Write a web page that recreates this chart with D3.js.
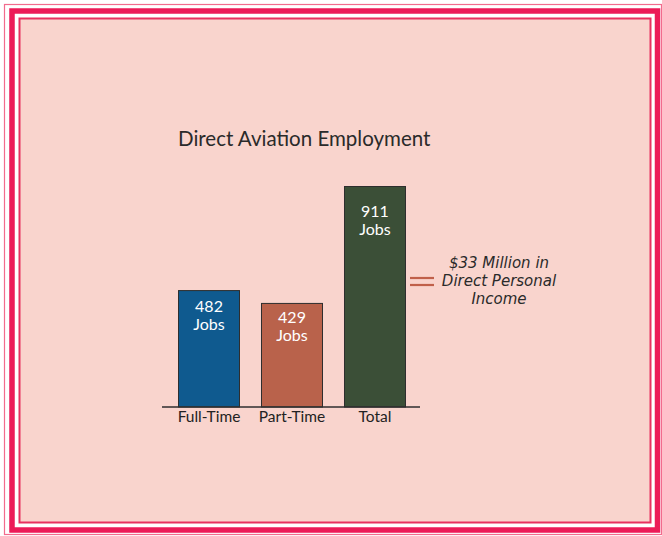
<!DOCTYPE html>
<html>
<head>
<meta charset="utf-8">
<script src="https://cdn.jsdelivr.net/npm/d3@7"></script>
<style>
  html, body { margin: 0; padding: 0; background: #ffffff; }
  svg { display: block; }
  text { font-family: Lato, "Noto Sans", sans-serif; }
</style>
</head>
<body>
<svg id="chart" width="662" height="536"></svg>
<script>
// Direct aviation employment by type
const categories = ["Full-Time", "Part-Time", "Total"];
const jobs = [482, 429, 911];
const barColors = ["#0f5a8f", "#b9624b", "#3b4f37"];
const chartTitle = "Direct Aviation Employment";
const incomeNote = ["$33 Million in", "Direct Personal", "Income"];

const svg = d3.select("#chart");

// Frame: thin outer rule, heavy band, thin inner rule around the panel
svg.append("rect").attr("x", 4.5).attr("y", 4.5).attr("width", 657).attr("height", 530)
  .attr("fill", "none").attr("stroke", "#f26b8d").attr("stroke-width", 1.2);
svg.append("rect").attr("x", 12).attr("y", 11).attr("width", 645.5).attr("height", 519)
  .attr("fill", "none").attr("stroke", "#ec1b58").attr("stroke-width", 5.5);
svg.append("rect").attr("x", 19.5).attr("y", 18.5).attr("width", 631).attr("height", 504)
  .attr("fill", "#f9d4cd").attr("stroke", "#e8305f").attr("stroke-width", 2);

// Title
svg.append("text")
  .attr("x", 178).attr("y", 146)
  .attr("font-size", 20.5).attr("fill", "#2a2a2a")
  .text(chartTitle);

// Scales
const x = d3.scaleBand().domain(categories).range([178, 406]).paddingInner(0.253).paddingOuter(0);
const y = d3.scaleLinear().domain([0, 911]).range([407, 186]);

const data = categories.map((c, i) => ({ cat: c, value: jobs[i], color: barColors[i] }));

// Bars
svg.append("g").selectAll("rect").data(data).join("rect")
  .attr("x", d => x(d.cat) + 0.5)
  .attr("y", d => y(d.value) + 0.5)
  .attr("width", x.bandwidth() - 1)
  .attr("height", d => y(0) - y(d.value) - 0.5)
  .attr("fill", d => d.color)
  .attr("stroke", "#2e2e2e").attr("stroke-width", 1);

// Value labels inside bars
const labelDrop = [22, 20, 31];
const labels = svg.append("g").selectAll("text").data(data).join("text")
  .attr("text-anchor", "middle")
  .attr("font-size", 16).attr("fill", "#ffffff")
  .attr("x", d => x(d.cat) + x.bandwidth() / 2)
  .attr("y", (d, i) => y(d.value) + labelDrop[i]);
labels.append("tspan").text(d => d3.format("d")(d.value));
labels.append("tspan")
  .attr("x", d => x(d.cat) + x.bandwidth() / 2)
  .attr("dy", 18).text("Jobs");

// Baseline axis with category labels
const axis = d3.axisBottom(x).tickSize(0).tickPadding(4);
const gx = svg.append("g").attr("transform", `translate(0,${y(0)})`).call(axis);
gx.select(".domain").remove();
gx.selectAll("text").attr("font-size", 15.5).attr("fill", "#222")
  .style("font-family", "Lato, 'Noto Sans', sans-serif");
svg.append("line").attr("x1", 162).attr("x2", 420).attr("y1", y(0)).attr("y2", y(0))
  .attr("stroke", "#2e2e2e").attr("stroke-width", 1.6);

// Equals sign linking the total to personal income
const eq = svg.append("g").attr("stroke", "#c0604a").attr("stroke-width", 2.2);
[278, 285].forEach(yy => eq.append("line").attr("x1", 410).attr("x2", 434).attr("y1", yy).attr("y2", yy));

svg.append("g").selectAll("text").data(incomeNote).join("text")
  .attr("x", 499).attr("y", (d, i) => 268 + i * 18)
  .attr("text-anchor", "middle")
  .attr("font-size", 15).attr("font-style", "italic").attr("fill", "#2a2a2a")
  .style("font-family", "'DejaVu Sans', 'Noto Sans', sans-serif")
  .text(d => d);
</script>
</body>
</html>
